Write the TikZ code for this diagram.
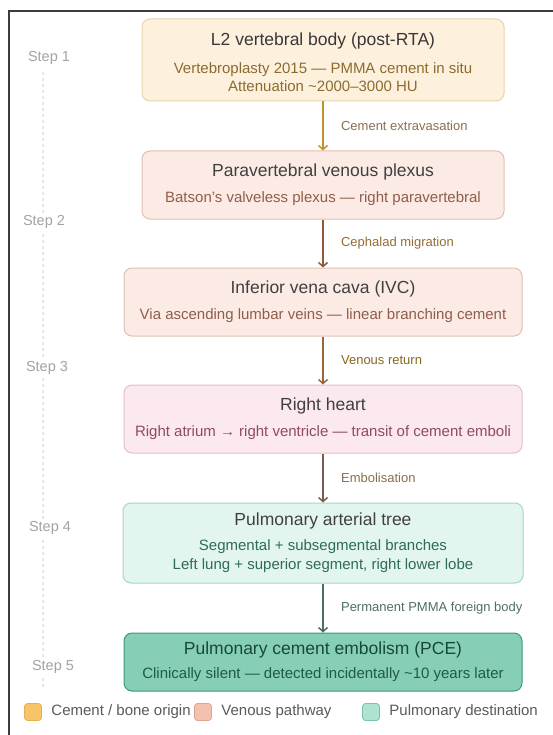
\documentclass[tikz,border=0pt]{standalone}
\usepackage{fontspec}
\setmainfont{Liberation Sans}
\usetikzlibrary{arrows.meta,positioning}
\definecolor{frameline}{HTML}{3C3C3C}
\definecolor{stepgrey}{HTML}{A3A3A3}
\definecolor{tlgrey}{HTML}{E6E6E6}
\definecolor{legendtext}{HTML}{5A5A5A}
\definecolor{bonefill}{HTML}{FDF1DE}
\definecolor{boneline}{HTML}{E8D3AE}
\definecolor{bonetext}{HTML}{8C6B2F}
\definecolor{bonearrow}{HTML}{C4922A}
\definecolor{veinfill}{HTML}{FBEBE4}
\definecolor{veinline}{HTML}{DFC1B4}
\definecolor{veintext}{HTML}{8F5E4C}
\definecolor{veinarrow}{HTML}{8E5B3A}
\definecolor{heartfill}{HTML}{FCE8EF}
\definecolor{heartline}{HTML}{E3C0CC}
\definecolor{hearttext}{HTML}{8E4A66}
\definecolor{heartarrow}{HTML}{7F5A55}
\definecolor{lungfill}{HTML}{E3F5EF}
\definecolor{lungline}{HTML}{A6D6C6}
\definecolor{lungtext}{HTML}{2E6B5B}
\definecolor{lungarrow}{HTML}{4E7060}
\definecolor{pcefill}{HTML}{86CFB6}
\definecolor{pceline}{HTML}{3F977C}
\definecolor{pcetext}{HTML}{1E5A47}
\definecolor{labelbrown}{HTML}{8A7050}
\definecolor{keybone}{HTML}{F8C468}
\definecolor{keybonel}{HTML}{E9B04F}
\definecolor{keyvein}{HTML}{F4C1B1}
\definecolor{keyveinl}{HTML}{E0A391}
\definecolor{keylung}{HTML}{AEE2D1}
\definecolor{keylungl}{HTML}{78C4AB}
\newcommand{\stagetitle}[1]{{\fontsize{17.5}{20}\selectfont #1}}

\begin{document}
\begin{tikzpicture}[x=1pt, y=-1pt,
    stage/.style={draw, line width=1pt, rounded corners=8pt, align=center,
      inner sep=0pt, font=\fontsize{15}{16}\selectfont},
    flow/.style={line width=1.5pt, -{Straight Barb[length=4pt, width=9pt]}},
    edgelabel/.style={midway, anchor=west, xshift=14pt, font=\fontsize{13}{15}\selectfont},
    steplabel/.style={fill=white, text=stepgrey, inner sep=2pt, font=\fontsize{14.5}{16}\selectfont},
    swatch/.style={draw, line width=0.8pt, rounded corners=3pt, minimum size=17pt, inner sep=0pt},
    legendlabel/.style={anchor=west, text=legendtext, font=\fontsize{15}{17}\selectfont}]
  \useasboundingbox (0,0) rectangle (553,735);
  \fill[white] (0,0) rectangle (553,735);
  % frame
  \draw[frameline, line width=1.5pt] (9,735) -- (9,11) -- (553,11);
  % timeline with steps
  \coordinate (tltop) at (43,72);
  \coordinate (tlbot) at (43,690);
  \draw[tlgrey, line width=1.5pt, dash pattern=on 3pt off 3pt] (tltop) -- (tlbot);
  \node[steplabel] (s1) at (49,58) {Step 1};
  \node[steplabel] (s2) at (44,222) {Step 2};
  \node[steplabel] (s3) at (47,368) {Step 3};
  \node[steplabel] (s4) at (50,528) {Step 4};
  \node[steplabel] (s5) at (53,667) {Step 5};
  % stages
  \node[stage, fill=bonefill, draw=boneline, text=black!78, minimum width=362pt, minimum height=82pt]
    (b1) at (323,60) {\rule{0pt}{18pt}\stagetitle{L2 vertebral body (post-RTA)}\\[12pt]
      \textcolor{bonetext}{Vertebroplasty 2015 — PMMA cement in situ}\\[2pt]
      \textcolor{bonetext}{Attenuation \textasciitilde2000–3000 HU}};
  \node[stage, fill=veinfill, draw=veinline, text=black!75, minimum width=362pt, minimum height=68pt]
    (b2) at (323,185) {\stagetitle{Paravertebral venous plexus}\\[10pt]
      \textcolor{veintext}{Batson's valveless plexus — right paravertebral}};
  \node[stage, fill=veinfill, draw=veinline, text=black!75, minimum width=398pt, minimum height=68pt]
    (b3) at (323,302) {\stagetitle{Inferior vena cava (IVC)}\\[10pt]
      \textcolor{veintext}{Via ascending lumbar veins — linear branching cement}};
  \node[stage, fill=heartfill, draw=heartline, text=black!75, minimum width=398pt, minimum height=68pt]
    (b4) at (323,419) {\stagetitle{Right heart}\\[10pt]
      \textcolor{hearttext}{Right atrium → right ventricle — transit of cement emboli}};
  \node[stage, fill=lungfill, draw=lungline, text=black!75, minimum width=400pt, minimum height=80pt]
    (b5) at (323,543) {\stagetitle{Pulmonary arterial tree}\\[9pt]
      \textcolor{lungtext}{Segmental + subsegmental branches}\\[3pt]
      \textcolor{lungtext}{Left lung + superior segment, right lower lobe}};
  \node[stage, fill=pcefill, draw=pceline, text=pcetext!80!black, minimum width=398pt, minimum height=58pt]
    (b6) at (323,662) {\stagetitle{Pulmonary cement embolism (PCE)}\\[8pt]
      \textcolor{pcetext}{Clinically silent — detected incidentally \textasciitilde10 years later}};
  % connectors
  \draw[flow, bonearrow] (b1) -- (b2) node[edgelabel, text=labelbrown] {Cement extravasation};
  \draw[flow, veinarrow] (b2) -- (b3) node[edgelabel, text=veinarrow!90!yellow] {Cephalad migration};
  \draw[flow, veinarrow!80!bonearrow] (b3) -- (b4) node[edgelabel, text=bonearrow!70!black] {Venous return};
  \draw[flow, heartarrow] (b4) -- (b5) node[edgelabel, text=labelbrown] {Embolisation};
  \draw[flow, lungarrow] (b5) -- (b6) node[edgelabel, text=lungarrow] {Permanent PMMA foreign body};
  % legend
  \node[swatch, fill=keybone, draw=keybonel] (k1) at (33,712) {};
  \node[legendlabel, right=6pt of k1] (k1t) {Cement / bone origin};
  \node[swatch, fill=keyvein, draw=keyveinl] (k2) at (203,712) {};
  \node[legendlabel, right=6pt of k2] (k2t) {Venous pathway};
  \node[swatch, fill=keylung, draw=keylungl] (k3) at (371,712) {};
  \node[legendlabel, right=6pt of k3] (k3t) {Pulmonary destination};
\end{tikzpicture}
\end{document}
